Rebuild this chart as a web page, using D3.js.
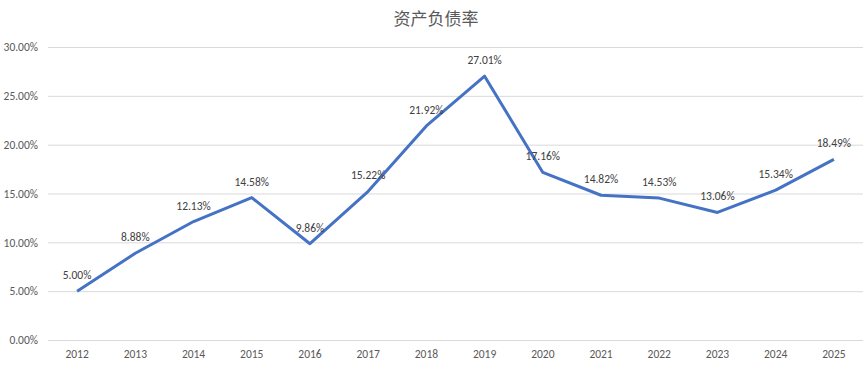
<!DOCTYPE html>
<html><head><meta charset="utf-8">
<script src="https://cdn.jsdelivr.net/npm/d3@7"></script>
<style>body{margin:0;background:#fff;}svg{display:block;font-family:"Microsoft YaHei","Noto Sans CJK SC","Liberation Sans",sans-serif;}</style>
</head><body><svg id="c" width="865" height="369"></svg>
<script>
const years = ["2012","2013","2014","2015","2016","2017","2018","2019","2020","2021","2022","2023","2024","2025"];
const ratios = [5.00,8.88,12.13,14.58,9.86,15.22,21.92,27.01,17.16,14.82,14.53,13.06,15.34,18.49];
const yTicks = [0,5,10,15,20,25,30];
const title = "资产负债率";

const svg = d3.select("#c");
const W = 865, H = 369;
const m = {left:48, right:2, top:47, bottom:29};
const x = d3.scaleBand().domain(years).range([m.left, W - m.right]);
const y = d3.scaleLinear().domain([0,30]).range([H - m.bottom, m.top]);
const cx = d => x(d) + x.bandwidth()/2;
const numFont = "Carlito,Calibri,'Liberation Sans',sans-serif";

svg.append("text").attr("x", 436).attr("y", 25).attr("text-anchor","middle")
  .attr("font-size",17).attr("fill","#595959").text(title);

const ga = svg.append("g").attr("transform",`translate(${m.left},0)`)
  .call(d3.axisLeft(y).tickValues(yTicks).tickSize(-(W - m.left - m.right)).tickPadding(10)
    .tickFormat(d => d.toFixed(2) + "%"));
ga.select(".domain").remove();
ga.selectAll(".tick line").attr("stroke","#d9d9d9").attr("stroke-width",1);
ga.selectAll(".tick text").attr("fill","#595959").attr("font-size",11.5).attr("font-family",numFont);

const gx = svg.append("g").attr("transform",`translate(0,${H - m.bottom})`)
  .call(d3.axisBottom(x).tickSize(0).tickPadding(10));
gx.select(".domain").remove();
gx.selectAll(".tick text").attr("fill","#595959").attr("font-size",11.5).attr("font-family",numFont);

const data = years.map((yr,i)=>({yr, v:ratios[i]}));
svg.append("path").datum(data)
  .attr("fill","none").attr("stroke","#4472C4").attr("stroke-width",3).attr("stroke-linejoin","round")
  .attr("d", d3.line().x(d=>cx(d.yr)).y(d=>y(d.v)));

svg.append("g").selectAll("text").data(data).join("text")
  .attr("x", d=>cx(d.yr)).attr("y", d=>y(d.v) - 12)
  .attr("text-anchor","middle").attr("font-size",11.5).attr("fill","#404040")
  .attr("font-family",numFont)
  .text(d=>d.v.toFixed(2)+"%");
</script></body></html>
